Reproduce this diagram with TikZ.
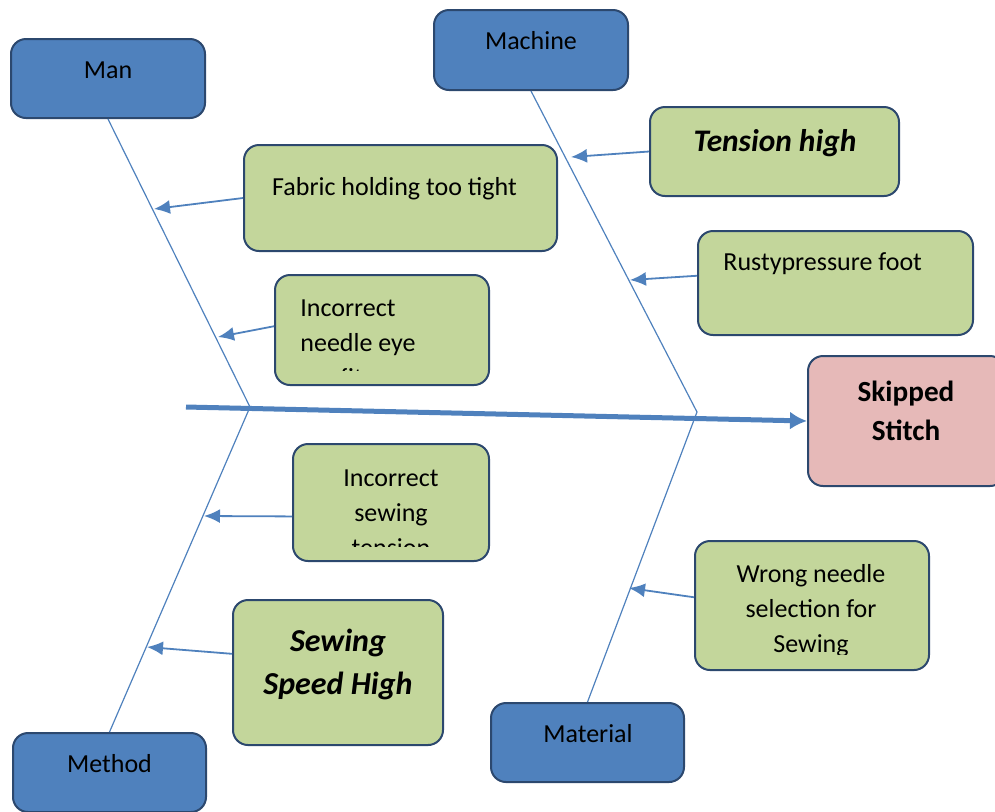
\documentclass[tikz,border=0pt]{standalone}
\usepackage{fontspec}
\setmainfont{Carlito}
\usetikzlibrary{arrows.meta}

\begin{document}
\begin{tikzpicture}[x=0.5pt,y=-0.5pt,>={Latex[length=8pt,width=7pt]}]

\definecolor{boneblue}{RGB}{79,129,189}
\definecolor{edgenavy}{RGB}{44,72,110}
\definecolor{causegreen}{RGB}{195,214,155}
\definecolor{effectpink}{RGB}{230,185,184}

% Page frame
\clip (0,0) rectangle (995,811);

\tikzset{
    group block/.style={
        draw=edgenavy, line width=1pt, fill=boneblue,
        rectangle, rounded corners=7.5pt
    },
    cause block/.style={
        draw=edgenavy, line width=1pt, fill=causegreen,
        rectangle, rounded corners=7.5pt
    },
    effect block/.style={
        draw=edgenavy, line width=1pt, fill=effectpink,
        rectangle, rounded corners=7.5pt
    },
    label text/.style={
        font=\fontsize{13}{17.5}\selectfont, align=center, inner sep=0pt
    },
    bold label/.style={
        font=\fontsize{16}{21.5}\selectfont\bfseries\itshape, align=center, inner sep=0pt
    },
    bone/.style={draw=boneblue, line width=0.6pt},
    feed/.style={draw=boneblue, line width=0.9pt, ->},
    spine/.style={draw=boneblue, line width=2.5pt, -{Latex[length=8.5pt,width=9pt]}}
}

% --- CATEGORY BLOCKS ---
\node[group block, minimum width=97pt, minimum height=39.5pt] (man) at (108,78.5) {};
\node[group block, minimum width=97pt, minimum height=40pt] (machine) at (531,50) {};
\node[group block, minimum width=96.5pt, minimum height=39.5pt] (method) at (109.5,772.5) {};
\node[group block, minimum width=96.5pt, minimum height=39.5pt] (material) at (587.5,742.5) {};

\node[label text] (man-t) at (108,70) {Man};
\node[label text] (machine-t) at (531,41) {Machine};
\node[label text] (method-t) at (109.5,764) {Method};
\node[label text] (material-t) at (588,734) {Material};

% --- CAUSE BLOCKS ---
\node[cause block, minimum width=124.5pt, minimum height=44.5pt] (tension) at (774.5,151.5) {};
\node[cause block, minimum width=156.5pt, minimum height=53pt] (fabric) at (400.5,198) {};
\node[cause block, minimum width=137.5pt, minimum height=52pt] (rusty) at (835.5,283) {};
\node[cause block, minimum width=107pt, minimum height=55pt] (needle) at (382,330) {};
\node[cause block, minimum width=98pt, minimum height=58.5pt] (sewtension) at (391,502.5) {};
\node[cause block, minimum width=117pt, minimum height=64.5pt] (wrong) at (812,605.5) {};
\node[cause block, minimum width=105pt, minimum height=72.5pt] (speed) at (338,672.5) {};

\node[bold label, font=\fontsize{15.7}{21}\selectfont\bfseries\itshape] (tension-t) at (775,143) {Tension high};
\node[label text] (fabric-t) at (394.5,189) {Fabric holding too tight};
\node[label text, anchor=west] (rusty-t) at (723,264) {Rustypressure foot};
\begin{scope}
    \clip (275,275) rectangle (489,370);
    \node[label text, align=left, anchor=west] (needle-t) at (300,343) {Incorrect\\needle eye\\\hspace*{20pt}fit};
\end{scope}
\begin{scope}
    \clip (293,444) rectangle (489,546);
    \node[label text] (sewtension-t) at (391,513) {Incorrect\\sewing\\tension};
\end{scope}
\begin{scope}
    \clip (695,541) rectangle (929,654);
    \node[label text] (wrong-t) at (811,611) {Wrong needle\\selection for\\Sewing};
\end{scope}
\node[bold label] (speed-t) at (338,664) {Sewing\\Speed High};

% --- EFFECT ---
\node[effect block, minimum width=98.5pt, minimum height=65pt] (skipped) at (906.5,421) {};
\node[label text, font=\fontsize{14.6}{19.5}\selectfont\bfseries] (skipped-t) at (906,411) {Skipped\\Stitch};

% --- BONES ---
\coordinate (jl) at (250,407);
\coordinate (jr) at (697,412);
\coordinate (tail) at (186,407);

\draw[bone] (man.south) -- (jl) -- (method.north);
\draw[bone] (machine.south) -- (jr) -- (material.north);
\draw[spine] (tail) -- (skipped.west);

% --- CAUSE ARROWS ---
\coordinate (t1) at (571,157);
\coordinate (f1) at (154,209);
\coordinate (r1) at (630,280);
\coordinate (n1) at (218,337);
\coordinate (s1) at (204,516);
\coordinate (p1) at (147,647);
\coordinate (w1) at (629,588);

\draw[feed] (tension.west) -- (t1);
\draw[feed] (fabric.west) -- (f1);
\draw[feed] (rusty.177) -- (r1);
\draw[feed] (needle.178) -- (n1);
\draw[feed] (sewtension.188) -- (s1);
\draw[feed] (speed.170) -- (p1);
\draw[feed] (wrong.176) -- (w1);

\end{tikzpicture}
\end{document}
